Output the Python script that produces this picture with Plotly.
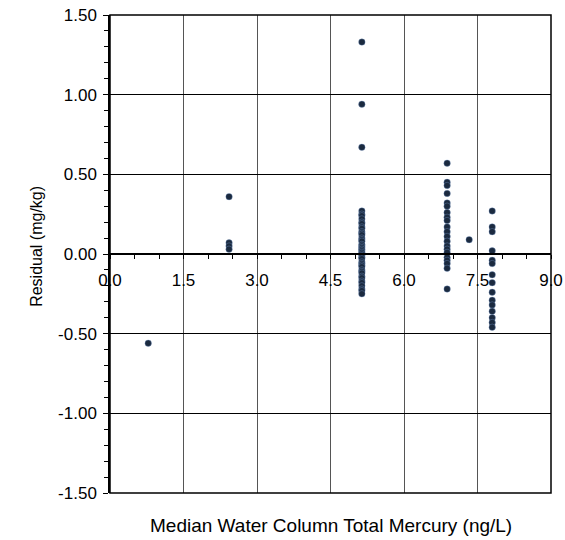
import plotly.graph_objects as go

# Median water-column total mercury (ng/L) for each site group
site_hg = [0.78, 2.43, 5.14, 6.88, 7.33, 7.80]

# Fish-tissue residuals (mg/kg) observed at each site group
resid_site1 = [-0.56]
resid_site2 = [0.36, 0.07, 0.05, 0.03]
resid_site3 = [1.33, 0.94, 0.67, 0.27, 0.25, 0.24, 0.22, 0.20, 0.19, 0.17,
               0.16, 0.14, 0.13, 0.12, 0.10, 0.09, 0.08, 0.06, 0.05, 0.04,
               0.03, 0.02, 0.01, 0.00, -0.01, -0.02, -0.03, -0.05, -0.06,
               -0.07, -0.08, -0.10, -0.11, -0.12, -0.14, -0.15, -0.17,
               -0.18, -0.20, -0.22, -0.23, -0.25]
resid_site4 = [0.57, 0.45, 0.43, 0.38, 0.32, 0.30, 0.26, 0.23, 0.21, 0.17,
               0.14, 0.11, 0.08, 0.05, 0.03, 0.01, -0.02, -0.04, -0.06,
               -0.09, -0.22]
resid_site5 = [0.09]
resid_site6 = [0.27, 0.17, 0.14, 0.02, -0.04, -0.06, -0.13, -0.18, -0.24,
               -0.29, -0.32, -0.36, -0.40, -0.43, -0.46]

x_tick_vals = [0.0, 1.5, 3.0, 4.5, 6.0, 7.5, 9.0]
x_tick_text = ["0.0", "1.5", "3.0", "4.5", "6.0", "7.5", "9.0"]
y_tick_vals = [-1.5, -1.0, -0.5, 0.0, 0.5, 1.0, 1.5]
y_tick_text = ["-1.50", "-1.00", "-0.50", "0.00", "0.50", "1.00", "1.50"]

groups = [resid_site1, resid_site2, resid_site3,
          resid_site4, resid_site5, resid_site6]

xs, ys = [], []
for hg, res in zip(site_hg, groups):
    xs.extend([hg] * len(res))
    ys.extend(res)

FONT = "Liberation Sans, Arial, sans-serif"

fig = go.Figure()
fig.add_trace(go.Scatter(
    x=xs, y=ys, mode="markers",
    marker=dict(symbol="circle", size=6.5, color="#1b2a3f",
                line=dict(width=1, color="rgba(120,155,205,0.35)")),
    showlegend=False, hoverinfo="x+y",
))

fig.update_layout(
    width=565, height=540,
    margin=dict(l=110, r=14, t=15, b=47, autoexpand=False),
    paper_bgcolor="white", plot_bgcolor="white",
    font=dict(family=FONT, size=17, color="black"),
    xaxis=dict(
        range=[0, 9], tickvals=x_tick_vals, ticktext=x_tick_text,
        anchor="free", position=0.5, automargin=False,
        showline=True, linecolor="black", linewidth=1.5,
        ticks="outside", ticklen=4, tickcolor="black",
        minor=dict(dtick=0.5, ticks="outside", ticklen=4, tickcolor="black",
                   showgrid=False),
        showgrid=True, gridcolor="#555555", gridwidth=1.2,
        zeroline=False, ticklabelstandoff=7,
        tickfont=dict(family=FONT, size=17),
    ),
    yaxis=dict(
        range=[-1.5, 1.5], tickvals=y_tick_vals, ticktext=y_tick_text,
        automargin=False,
        showline=True, linecolor="black", linewidth=1.5,
        ticks="outside", ticklen=5, tickcolor="black",
        minor=dict(dtick=0.1, ticks="outside", ticklen=4, tickcolor="black",
                   showgrid=False),
        showgrid=True, gridcolor="black", gridwidth=1.2,
        zeroline=False, ticklabelstandoff=3,
        tickfont=dict(family=FONT, size=17),
    ),
    shapes=[dict(type="rect", xref="paper", yref="paper", x0=0, y0=0,
                 x1=1, y1=1, line=dict(color="black", width=1.5),
                 layer="above")],
    annotations=[
        dict(text="Median Water Column Total Mercury (ng/L)",
             xref="paper", yref="paper", x=0.5, y=-0.067,
             xanchor="center", yanchor="middle", showarrow=False,
             font=dict(family=FONT, size=19)),
        dict(text="Residual (mg/kg)", textangle=-90,
             xref="paper", yref="paper", x=-0.1655, y=0.515,
             xanchor="center", yanchor="middle", showarrow=False,
             font=dict(family=FONT, size=16)),
    ],
)

fig.write_html("out.html")
